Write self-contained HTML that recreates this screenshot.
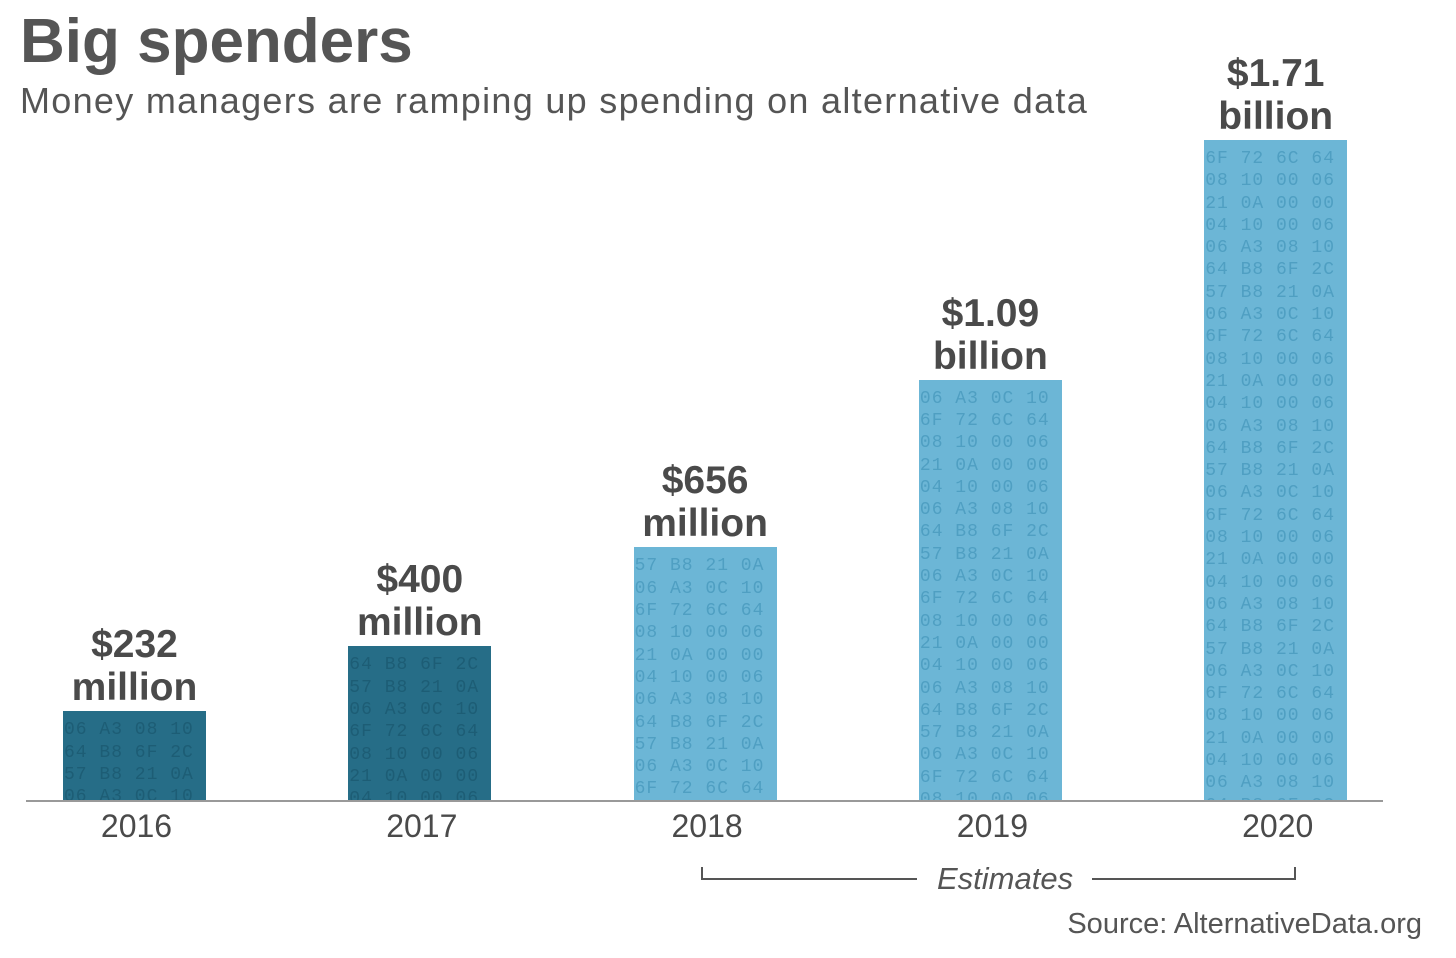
<!DOCTYPE html>
<html><head><meta charset="utf-8">
<style>
body{margin:0;background:#fff;width:1456px;height:958px;overflow:hidden;position:relative;font-family:"Liberation Sans",sans-serif;color:#4a4a4a}
.abs{position:absolute}
.bar{position:absolute;overflow:hidden;font-family:"Liberation Mono",monospace;font-size:18px;line-height:22.3px;white-space:pre;letter-spacing:1px}
.dark{background:#266d87;color:#1d5d75}
.light{background:#6cb6d6;color:#4f9fc2}
.val{position:absolute;text-align:center;font-weight:bold;font-size:39px;line-height:43px;color:#4a4a4a;width:260px}
.yr{position:absolute;text-align:center;font-size:32px;width:200px;top:808px;color:#4a4a4a}
</style></head><body>
<div class="abs" style="left:20px;top:6px;font-size:62px;font-weight:bold;color:#555">Big spenders</div>
<div class="abs" style="left:20px;top:80px;font-size:36px;letter-spacing:1.3px;color:#555">Money managers are ramping up spending on alternative data</div>
<div id="plot"></div>
<div class="abs" style="left:26px;top:800px;width:1357px;height:2px;background:#999"></div>
<div class="abs" style="left:701px;top:867px;width:214px;height:11px;border-left:2px solid #555;border-bottom:2px solid #555"></div>
<div class="abs" style="left:1092px;top:867px;width:202px;height:11px;border-right:2px solid #555;border-bottom:2px solid #555"></div>
<div class="abs" style="left:937px;top:861px;font-size:31px;font-style:italic;color:#555">Estimates</div>
<div class="abs" style="right:34px;top:908px;font-size:29px;color:#555">Source: AlternativeData.org</div>
<script>
const categories=["2016","2017","2018","2019","2020"];
const values=[232,400,656,1090,1710];
const labels1=["$232","$400","$656","$1.09","$1.71"];
const labels2=["million","million","million","billion","billion"];
const estimate=[false,false,true,true,true];
const baseY=801, scale=661/1710, barW=143;
const xLeft=i=>63+i*285.3;
const hex=["06 A3 08 10","64 B8 6F 2C","57 B8 21 0A","06 A3 0C 10","6F 72 6C 64","08 10 00 06","21 0A 00 00","04 10 00 06"];
const plot=document.getElementById('plot');
categories.forEach((c,i)=>{
  const h=values[i]*scale, x=xLeft(i), top=baseY-h;
  const b=document.createElement('div');
  b.className='bar '+(estimate[i]?'light':'dark');
  
  
  b.style.left=x+'px';b.style.top=top+'px';b.style.width=barW+'px';b.style.height=h+'px';
  let t='';const n=Math.ceil(h/22)+1;
  for(let r=0;r<n;r++){t+=hex[(r+i)%hex.length]+'\n';}
  b.textContent=t;b.style.paddingTop='8px';b.style.boxSizing='border-box';b.style.paddingLeft='1px';
  plot.appendChild(b);
  const v=document.createElement('div');
  v.className='val';
  
  
  v.style.left=(x+barW/2-130)+'px';v.style.top=(top-88)+'px';
  v.innerHTML=labels1[i]+'<br>'+labels2[i];
  plot.appendChild(v);
  const y=document.createElement('div');
  y.className='yr';
  
  
  y.style.left=(x+barW/2-100+2)+'px';
  y.textContent=c;
  plot.appendChild(y);
});
</script>
</body></html>
